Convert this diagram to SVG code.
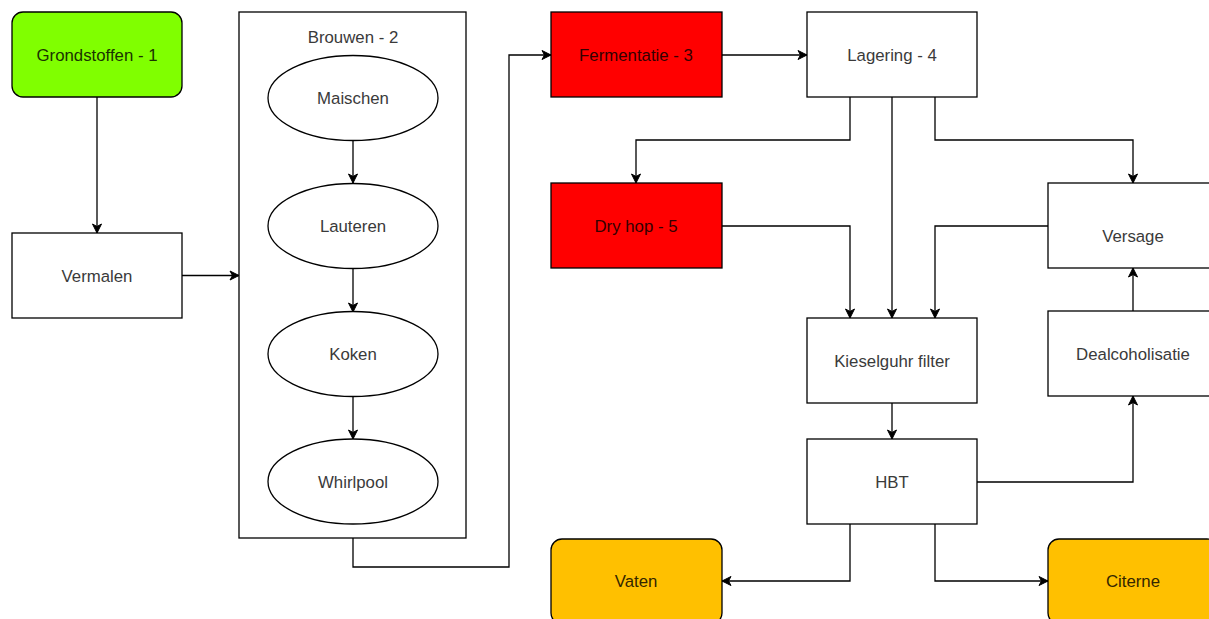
<svg xmlns="http://www.w3.org/2000/svg" width="1209" height="619" viewBox="0 0 1209 619">
<defs>
<marker id="arr" markerWidth="12" markerHeight="12" refX="10" refY="6" orient="auto" markerUnits="userSpaceOnUse">
<path d="M1,1.5 L10,6 L1,10.5 L3.5,6 Z" fill="#000" stroke="#000" stroke-width="1"/>
</marker>
</defs>
<style>
.box{stroke:#000;stroke-width:1.3}
.t{font-family:"Liberation Sans",Arial,sans-serif;font-size:16.8px;fill:#3a3a3a;text-anchor:middle;dominant-baseline:central}
.c{fill:none;stroke:#000;stroke-width:1.3;marker-end:url(#arr)}
</style>
<rect width="1209" height="619" fill="#fff"/>
<g id="connectors">
<path class="c" d="M97,97 V233"/>
<path class="c" d="M182,275.5 H239"/>
<path class="c" d="M353,140 V183"/>
<path class="c" d="M353,269 V312"/>
<path class="c" d="M353,397 V439"/>
<path class="c" d="M353,538 V567 H509 V55 H551"/>
<path class="c" d="M722,55 H807"/>
<path class="c" d="M850,97 V140 H636 V183"/>
<path class="c" d="M892,97 V318"/>
<path class="c" d="M935,97 V140 H1133 V183"/>
<path class="c" d="M722,226 H850 V318"/>
<path class="c" d="M1048,226 H935 V318"/>
<path class="c" d="M892,403 V439"/>
<path class="c" d="M977,482 H1133 V396"/>
<path class="c" d="M1133,311 V268"/>
<path class="c" d="M850,524 V581 H722"/>
<path class="c" d="M935,524 V581 H1048"/>
</g>
<g id="grondstoffen"><rect class="box" x="12" y="12" width="170" height="85" rx="11" fill="#80FF00"/><text class="t" x="97" y="55" style="fill:#1a3300">Grondstoffen - 1</text></g>
<g id="vermalen"><rect class="box" x="12" y="233" width="170" height="85" fill="#fff"/><text class="t" x="97" y="276">Vermalen</text></g>
<g id="brouwen"><rect class="box" x="239" y="12" width="227" height="526" fill="none"/><text class="t" x="353" y="37">Brouwen - 2</text></g>
<g id="maischen"><ellipse class="box" cx="353" cy="98" rx="85" ry="42.5" fill="#fff"/><text class="t" x="353" y="98">Maischen</text></g>
<g id="lauteren"><ellipse class="box" cx="353" cy="226" rx="85" ry="42.5" fill="#fff"/><text class="t" x="353" y="226">Lauteren</text></g>
<g id="koken"><ellipse class="box" cx="353" cy="354" rx="85" ry="42.5" fill="#fff"/><text class="t" x="353" y="354">Koken</text></g>
<g id="whirlpool"><ellipse class="box" cx="353" cy="481.5" rx="85" ry="42.5" fill="#fff"/><text class="t" x="353" y="482">Whirlpool</text></g>
<g id="fermentatie"><rect class="box" x="551" y="12" width="171" height="85" fill="#FF0000"/><text class="t" x="636" y="55" style="fill:#330000">Fermentatie - 3</text></g>
<g id="lagering"><rect class="box" x="807" y="12" width="170" height="85" fill="#fff"/><text class="t" x="892" y="55">Lagering - 4</text></g>
<g id="dryhop"><rect class="box" x="551" y="183" width="171" height="85" fill="#FF0000"/><text class="t" x="636" y="226" style="fill:#330000">Dry hop - 5</text></g>
<g id="versage"><rect class="box" x="1048" y="183" width="170" height="85" fill="#fff"/><text class="t" x="1133" y="236">Versage</text></g>
<g id="dealcoholisatie"><rect class="box" x="1048" y="311" width="170" height="85" fill="#fff"/><text class="t" x="1133" y="354">Dealcoholisatie</text></g>
<g id="kieselguhr"><rect class="box" x="807" y="318" width="170" height="85" fill="#fff"/><text class="t" x="892" y="361">Kieselguhr filter</text></g>
<g id="hbt"><rect class="box" x="807" y="439" width="170" height="85" fill="#fff"/><text class="t" x="892" y="482">HBT</text></g>
<g id="vaten"><rect class="box" x="551" y="539" width="171" height="85" rx="11" fill="#FFC000"/><text class="t" x="636" y="581" style="fill:#332600">Vaten</text></g>
<g id="citerne"><rect class="box" x="1048" y="539" width="170" height="85" rx="11" fill="#FFC000"/><text class="t" x="1133" y="581" style="fill:#332600">Citerne</text></g>
</svg>
